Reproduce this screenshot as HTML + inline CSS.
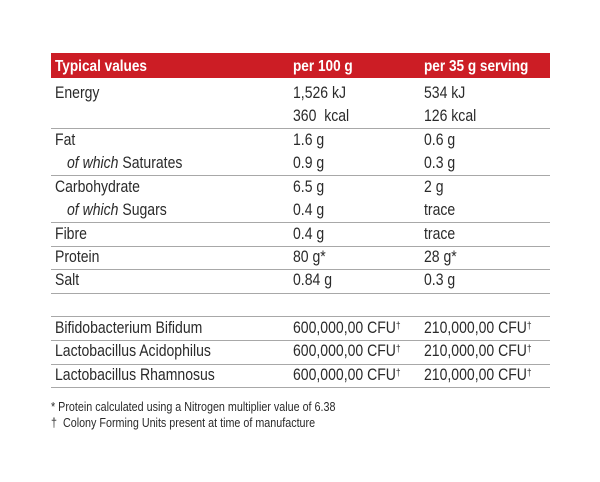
<!DOCTYPE html>
<html><head><style>
body{margin:0;background:#fff;width:600px;height:482px;position:relative;overflow:hidden;font-family:"Liberation Sans",Arial,sans-serif;color:#2a2a2a}
.t{position:absolute;font-size:16.5px;line-height:17px;white-space:nowrap;transform:scaleX(0.85);transform-origin:0 0;margin-top:1px}
.h{color:#fff;font-weight:bold;font-size:16px}
.l{position:absolute;left:51px;width:499px;height:1px;background:#a8a8a8}
.f{position:absolute;font-size:12.5px;line-height:13px;white-space:nowrap;transform:scaleX(0.86);transform-origin:0 0;left:51px}
i{font-style:italic}
sup{font-size:10px;vertical-align:top;position:relative;top:-2px}
</style></head><body>
<div style="position:absolute;left:51px;top:53px;width:499px;height:25px;background:#cc1d25"></div>
<div class="t h" style="left:55px;top:57px">Typical values</div>
<div class="t h" style="left:293px;top:57px">per 100 g</div>
<div class="t h" style="left:424px;top:57px">per 35 g serving</div>

<div class="t" style="left:55px;top:84px">Energy</div>
<div class="t" style="left:293px;top:84px">1,526 kJ</div>
<div class="t" style="left:424px;top:84px">534 kJ</div>
<div class="t" style="left:293px;top:107px">360&nbsp; kcal</div>
<div class="t" style="left:424px;top:107px">126 kcal</div>
<div class="l" style="top:128px"></div>

<div class="t" style="left:55px;top:131px">Fat</div>
<div class="t" style="left:293px;top:131px">1.6 g</div>
<div class="t" style="left:424px;top:131px">0.6 g</div>
<div class="t" style="left:67px;top:154px"><i>of which</i> Saturates</div>
<div class="t" style="left:293px;top:154px">0.9 g</div>
<div class="t" style="left:424px;top:154px">0.3 g</div>
<div class="l" style="top:175px"></div>

<div class="t" style="left:55px;top:178px">Carbohydrate</div>
<div class="t" style="left:293px;top:178px">6.5 g</div>
<div class="t" style="left:424px;top:178px">2 g</div>
<div class="t" style="left:67px;top:201px"><i>of which</i> Sugars</div>
<div class="t" style="left:293px;top:201px">0.4 g</div>
<div class="t" style="left:424px;top:201px">trace</div>
<div class="l" style="top:222px"></div>

<div class="t" style="left:55px;top:225px">Fibre</div>
<div class="t" style="left:293px;top:225px">0.4 g</div>
<div class="t" style="left:424px;top:225px">trace</div>
<div class="l" style="top:246px"></div>

<div class="t" style="left:55px;top:248px">Protein</div>
<div class="t" style="left:293px;top:248px">80 g*</div>
<div class="t" style="left:424px;top:248px">28 g*</div>
<div class="l" style="top:269px"></div>

<div class="t" style="left:55px;top:271px">Salt</div>
<div class="t" style="left:293px;top:271px">0.84 g</div>
<div class="t" style="left:424px;top:271px">0.3 g</div>
<div class="l" style="top:293px"></div>

<div class="l" style="top:316px"></div>
<div class="t" style="left:55px;top:319px">Bifidobacterium Bifidum</div>
<div class="t" style="left:293px;top:319px">600,000,00 CFU<sup>†</sup></div>
<div class="t" style="left:424px;top:319px">210,000,00 CFU<sup>†</sup></div>
<div class="l" style="top:340px"></div>
<div class="t" style="left:55px;top:342px">Lactobacillus Acidophilus</div>
<div class="t" style="left:293px;top:342px">600,000,00 CFU<sup>†</sup></div>
<div class="t" style="left:424px;top:342px">210,000,00 CFU<sup>†</sup></div>
<div class="l" style="top:364px"></div>
<div class="t" style="left:55px;top:366px">Lactobacillus Rhamnosus</div>
<div class="t" style="left:293px;top:366px">600,000,00 CFU<sup>†</sup></div>
<div class="t" style="left:424px;top:366px">210,000,00 CFU<sup>†</sup></div>
<div class="l" style="top:387px"></div>

<div class="f" style="top:401px">* Protein calculated using a Nitrogen multiplier value of 6.38</div>
<div class="f" style="top:417px">† &nbsp;Colony Forming Units present at time of manufacture</div>
</body></html>
